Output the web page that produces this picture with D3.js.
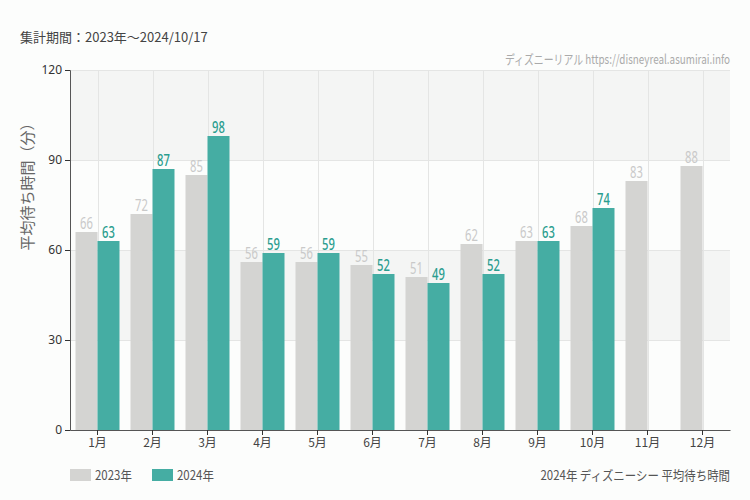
<!DOCTYPE html>
<html><head><meta charset="utf-8">
<script src="https://cdn.jsdelivr.net/npm/d3@7"></script>
<style>
body{margin:0;background:#fcfdfc;}
svg{display:block;}
</style></head>
<body><div id="chart"></div>
<script>
const months = ["1月","2月","3月","4月","5月","6月","7月","8月","9月","10月","11月","12月"];
const values2023 = [66,72,85,56,56,55,51,62,63,68,83,88];
const values2024 = [63,87,98,59,59,52,49,52,63,74,null,null];
const seriesNames = ["2023年","2024年"];
const yTicks = [0,30,60,90,120];

const W=750,H=500;
const m={left:70,right:20,top:70,bottom:70};
const FONT="'Noto Sans CJK JP','Noto Sans',sans-serif";
const svg=d3.select("#chart").append("svg").attr("width",W).attr("height",H);
svg.append("rect").attr("width",W).attr("height",H).attr("fill","#fcfdfc");

// condensed text helper
function ctext(parent,x,y,str,opts){
  const g=parent.append("g").attr("transform",`translate(${x},${y})`);
  const t=g.append("text").attr("transform",`scale(${opts.sx||0.75},1)`)
    .attr("text-anchor",opts.anchor||"start").attr("font-size",opts.size||13)
    .attr("font-family",opts.family||FONT).attr("font-weight",opts.weight||"normal")
    .attr("fill",opts.fill||"#555").text(str);
  return t;
}

const x=d3.scaleBand().domain(months).range([m.left,W-m.right]).paddingInner(0).paddingOuter(0);
const xs=d3.scaleBand().domain(seriesNames).range([0,x.bandwidth()]).paddingInner(0).paddingOuter(0.25);
const y=d3.scaleLinear().domain([0,120]).range([H-m.bottom,m.top]);

// background bands
const bands=[[90,120,"#f4f5f4"],[60,90,"#fcfdfc"],[30,60,"#f4f5f4"],[0,30,"#fcfdfc"]];
svg.append("g").selectAll("rect").data(bands).join("rect")
  .attr("x",m.left).attr("width",W-m.right-m.left)
  .attr("y",d=>y(d[1])).attr("height",d=>y(d[0])-y(d[1])).attr("fill",d=>d[2]);

// horizontal grid
svg.append("g").selectAll("line").data(yTicks.slice(1)).join("line")
  .attr("x1",m.left).attr("x2",W-m.right).attr("y1",d=>y(d)+0.5).attr("y2",d=>y(d)+0.5)
  .attr("stroke","#e4e5e4");
// vertical grid at category centers
svg.append("g").selectAll("line").data(months).join("line")
  .attr("x1",d=>Math.round(x(d)+x.bandwidth()/2)+0.5).attr("x2",d=>Math.round(x(d)+x.bandwidth()/2)+0.5)
  .attr("y1",m.top).attr("y2",H-m.bottom).attr("stroke","#e4e5e4");

const colors={"2023年":"#d4d4d2","2024年":"#45ada3"};
const labelColors={"2023年":"#c9c9c9","2024年":"#2a9d8f"};
const data=months.map((mo,i)=>({m:mo,vals:[{k:"2023年",v:values2023[i]},{k:"2024年",v:values2024[i]}]}));

const g=svg.append("g").selectAll("g").data(data).join("g").attr("transform",d=>`translate(${x(d.m)},0)`);
g.selectAll("rect").data(d=>d.vals.filter(v=>v.v!=null)).join("rect")
  .attr("x",d=>xs(d.k)).attr("width",xs.bandwidth())
  .attr("y",d=>y(d.v)).attr("height",d=>y(0)-y(d.v)).attr("fill",d=>colors[d.k]);
g.each(function(d){
  const sel=d3.select(this);
  d.vals.filter(v=>v.v!=null).forEach(v=>{
    ctext(sel,xs(v.k)+xs.bandwidth()/2,y(v.v)-3,v.v,{anchor:"middle",size:17,sx:0.66,
      family:"'Noto Sans',sans-serif",weight:v.k==="2024年"?"500":"normal",fill:labelColors[v.k]});
  });
});

// axes
const yAxis=svg.append("g").attr("transform",`translate(${m.left},0)`)
  .call(d3.axisLeft(y).tickValues(yTicks).tickSize(5).tickPadding(3));
yAxis.select(".domain").attr("stroke","#555");
yAxis.selectAll(".tick line").attr("stroke","#333");
yAxis.selectAll("text").attr("fill","#333").attr("font-size",12).attr("font-family","'Noto Sans',sans-serif");

const xAxis=svg.append("g").attr("transform",`translate(0,${H-m.bottom})`)
  .call(d3.axisBottom(x).tickSize(5).tickPadding(3).tickSizeOuter(0));
xAxis.select(".domain").attr("stroke","#555");
xAxis.selectAll(".tick line").attr("stroke","#333");
xAxis.selectAll("text").attr("fill","#444").attr("font-size",12).attr("font-family",FONT);

// y title
svg.append("text").attr("transform",`translate(33,183) rotate(-90)`)
  .attr("text-anchor","middle").attr("font-size",15).attr("fill","#666")
  .attr("font-family",FONT).text("平均待ち時間（分）");

// top title
svg.append("text").attr("x",20).attr("y",42).attr("font-size",13).attr("fill","#444")
  .attr("font-family",FONT).text("集計期間：2023年〜2024/10/17");
// source
ctext(svg,W-m.right,64,"ディズニーリアル https://disneyreal.asumirai.info",{anchor:"end",size:13,sx:0.76,fill:"#aaa"});

// legend
const lg=svg.append("g").selectAll("g").data(seriesNames).join("g")
  .attr("transform",(d,i)=>`translate(${70+i*82},469)`);
lg.append("rect").attr("width",21).attr("height",12).attr("fill",d=>colors[d]);
lg.each(function(d){ ctext(d3.select(this),25,11,d,{size:13,sx:0.88,fill:"#555"}); });
ctext(svg,W-m.right,480,"2024年 ディズニーシー 平均待ち時間",{anchor:"end",size:13,sx:0.88,fill:"#555"});
</script></body></html>
